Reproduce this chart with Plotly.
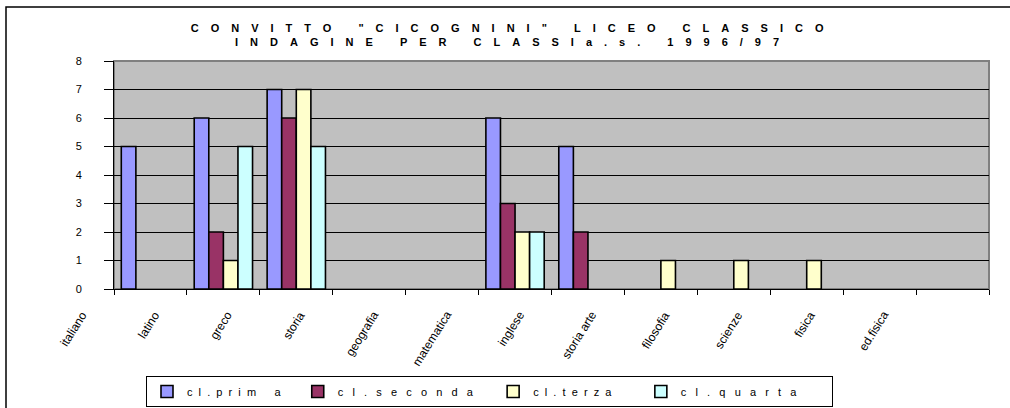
import plotly.graph_objects as go

subjects = ["italiano", "latino", "greco", "storia", "geografia", "matematica",
            "inglese", "storia arte", "filosofia", "scienze", "fisica", "ed.fisica"]
prima   = [5, 6, 7, 0, 0, 6, 5, 0, 0, 0, 0, 0]
seconda = [0, 2, 6, 0, 0, 3, 2, 0, 0, 0, 0, 0]
terza   = [0, 1, 7, 0, 0, 2, 0, 1, 1, 1, 0, 0]
quarta  = [0, 5, 5, 0, 0, 2, 0, 0, 0, 0, 0, 0]

NB = "\u00a0"
series_names = [
    "c l . p r i m   a".replace(" ", NB * 2) + NB * 4,
    "c l . s e c o n d a".replace(" ", NB * 3) + NB * 5,
    "c l . t e r z a".replace(" ", NB * 2) + NB * 8,
    "c l . q u a r t a".replace(" ", NB * 3) + NB * 10,
]
series_vals = [prima, seconda, terza, quarta]
series_colors = ["#9999FF", "#993366", "#FFFFCC", "#CCFFFF"]

title_l1 = 'CONVITTO "CICOGNINI" LICEO CLASSICO'
title_l2 = 'INDAGINE PER CLASSIa.s. 1996/97'

LABEL_SHIFT = -0.8
FONT = "Liberation Sans, Arial, sans-serif"
N = len(subjects)

fig = go.Figure()
for name, vals, col in zip(series_names, series_vals, series_colors):
    fig.add_trace(go.Bar(
        x=subjects, y=[v if v else None for v in vals], name=name,
        marker=dict(color=col, line=dict(color="black", width=1.6)),
    ))

annotations = [
    dict(x=(i + 0.5 + LABEL_SHIFT) / N, y=0, xref="paper", yref="y", text=s, showarrow=False,
         textangle=-58, xanchor="right", yanchor="top", yshift=-17,
         font=dict(family=FONT, size=12, color="black"))
    for i, s in enumerate(subjects)
]

sp = '<span style="letter-spacing:12px">'
fig.update_layout(
    width=1010, height=408,
    margin=dict(l=114, r=21, t=61, b=119, autoexpand=False),
    paper_bgcolor="white", plot_bgcolor="#C0C0C0",
    barmode="group", bargap=0.2, bargroupgap=0,
    font=dict(family=FONT, color="black", size=11),
    title=dict(text="<b>" + sp + title_l1 + "</span><br>" + sp + title_l2 + "</span></b>",
               x=0.508, xref="container", xanchor="center",
               y=1 - 32 / 408, yref="container", yanchor="top",
               font=dict(family=FONT, size=11, color="black")),
    xaxis=dict(type="category", tickson="boundaries", ticks="outside", ticklen=5,
               tickcolor="black", showticklabels=False, showline=True,
               linecolor="black", linewidth=1, showgrid=False, zeroline=False,
               range=[-0.5, N - 0.5]),
    yaxis=dict(range=[0, 8], dtick=1, ticks="outside", ticklen=9, tickcolor="black",
               showline=True, linecolor="black", linewidth=1, showgrid=True,
               gridcolor="black", gridwidth=1, zeroline=False,
               ticklabelstandoff=20, tickfont=dict(family=FONT, size=11, color="black")),
    legend=dict(orientation="h", x=(146 - 114) / 875, xanchor="left", y=-0.3816, yanchor="top",
                bordercolor="black", borderwidth=1, bgcolor="white",
                font=dict(family=FONT, size=11, color="black"), traceorder="normal"),
    annotations=annotations,
    shapes=[
        dict(type="rect", xref="x domain", yref="y domain", x0=0, x1=1, y0=0, y1=1,
             line=dict(color="#808080", width=2), layer="below"),
        dict(type="rect", xref="paper", yref="paper", x0=(6 - 114) / 875, x1=1.05,
             y0=-0.6, y1=(289 - 7) / 228, line=dict(color="black", width=1.5), layer="below"),
    ],
)

fig.write_html("out.html", config={"displayModeBar": False},
               post_script="document.body.style.margin='0';")
